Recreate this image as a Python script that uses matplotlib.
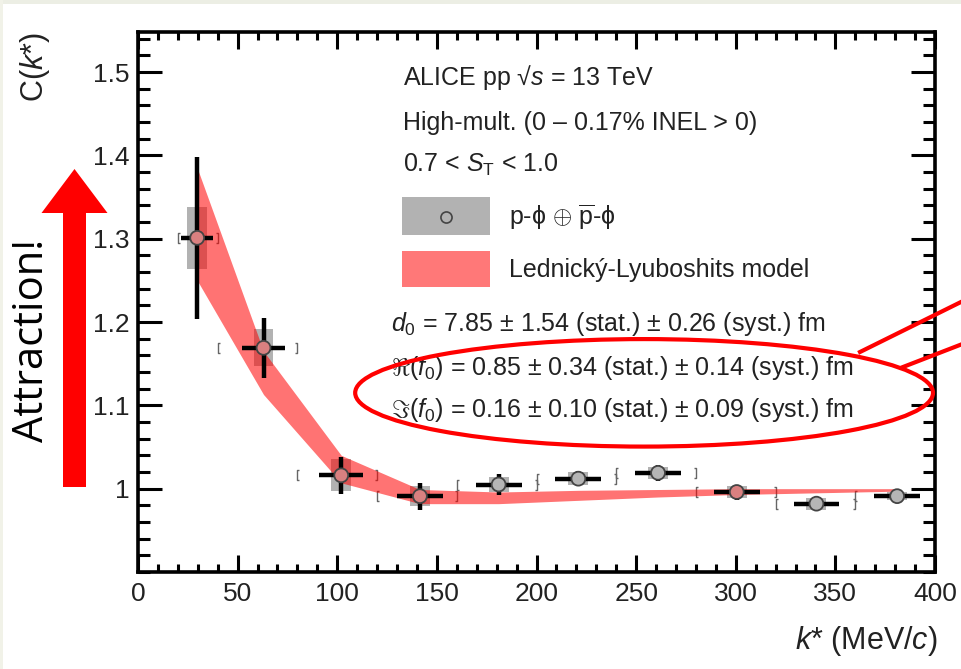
import numpy as np
import matplotlib
matplotlib.use("Agg")
import matplotlib.pyplot as plt
from matplotlib.patches import Ellipse, FancyArrow, Rectangle
from matplotlib.path import Path
from matplotlib.lines import Line2D
from matplotlib.ticker import MultipleLocator, FuncFormatter

plt.rcParams['font.family'] = ['Liberation Sans', 'DejaVu Sans']
plt.rcParams['mathtext.fontset'] = 'custom'
plt.rcParams['mathtext.rm'] = 'Liberation Sans'
plt.rcParams['mathtext.it'] = 'Liberation Sans:italic'
plt.rcParams['mathtext.bf'] = 'Liberation Sans:bold'

# p-phi correlation
k_star = [29.7, 63.0, 102.0, 141.5, 181.0, 221.0, 261.0, 300.5, 340.5, 381.0]
c_val = [1.301, 1.169, 1.016, 0.991, 1.005, 1.012, 1.019, 0.996, 0.982, 0.991]
stat_err = [0.097, 0.036, 0.022, 0.016, 0.013, 0.009, 0.010, 0.009, 0.005, 0.005]
k_err = [8.0, 11.0, 11.0, 11.5, 11.5, 11.5, 11.5, 11.5, 11.5, 11.5]
syst_err = [0.037, 0.022, 0.019, 0.012, 0.009, 0.008, 0.007, 0.007, 0.007, 0.005]
bin_lo = [20, 40, 80, 120, 160, 200, 240, 280, 320, 360]
bin_hi = [40, 80, 120, 160, 200, 240, 280, 320, 360, 400]

# Lednicky-Lyuboshits band
band_k = [29.7, 63.0, 102.0, 141.5, 181.0, 221.0, 261.0, 300.5, 340.5, 381.0]
band_lo = [1.250, 1.113, 1.007, 0.982, 0.982, 0.986, 0.990, 0.993, 0.995, 0.997]
band_hi = [1.385, 1.165, 1.040, 0.999, 0.996, 0.998, 0.999, 1.000, 1.000, 1.000]

W, H = 961, 669
TXT = '#222222'
fig = plt.figure(figsize=(W / 100, H / 100), dpi=100)
fig.patch.set_facecolor('white')
# faint slide frame
fig.patches.append(Rectangle((0, 1 - 4 / H), 1, 4 / H, transform=fig.transFigure,
                             color='#eceee4', lw=0))
fig.patches.append(Rectangle((0, 0), 3 / W, 1, transform=fig.transFigure,
                             color='#f1f2e8', lw=0))

ax = fig.add_axes([138 / W, 1 - 572 / H, 797 / W, 540 / H])
ax.set_xlim(0, 400)
ax.set_ylim(0.9, 1.548)

# syst boxes
ax.bar(k_star, 2 * np.array(syst_err), bottom=np.array(c_val) - np.array(syst_err),
       width=10, color='#b2b2b2', lw=0, zorder=1)

# bin-edge brackets
lbr = Path([(0.5, 1), (0, 1), (0, -1), (0.5, -1)],
           [Path.MOVETO, Path.LINETO, Path.LINETO, Path.LINETO])
rbr = Path([(-0.5, 1), (0, 1), (0, -1), (-0.5, -1)],
           [Path.MOVETO, Path.LINETO, Path.LINETO, Path.LINETO])
ax.plot(bin_lo, c_val, ls='none', marker=lbr, ms=6.5, mfc='none', mec='#666666',
        mew=1.0, zorder=2)
ax.plot(bin_hi, c_val, ls='none', marker=rbr, ms=6.5, mfc='none', mec='#666666',
        mew=1.0, zorder=2)

ax.fill_between(band_k, band_lo, band_hi, color='red', alpha=0.55, lw=0, zorder=3)

ax.errorbar(k_star, c_val, yerr=stat_err, xerr=k_err, fmt='none', ecolor='black',
            elinewidth=3.2, capsize=0, zorder=5)

# markers: tinted where they sit inside the model band
inside = ((np.array(c_val) >= np.interp(k_star, band_k, band_lo) - 0.004) &
          (np.array(c_val) <= np.interp(k_star, band_k, band_hi) + 0.004))
face = np.where(inside[:, None], [[0.85, 0.5, 0.5]], [[0.71, 0.71, 0.71]])
ax.scatter(k_star, c_val, s=10.0 ** 2, c=face, edgecolors='#444444', linewidths=1.3,
           zorder=6)

# axes styling
for s in ax.spines.values():
    s.set_linewidth(2.6)
ax.xaxis.set_major_locator(MultipleLocator(50))
ax.xaxis.set_minor_locator(MultipleLocator(10))
ax.set_yticks([1.0, 1.1, 1.2, 1.3, 1.4, 1.5])
ax.yaxis.set_minor_locator(MultipleLocator(0.02))
ax.yaxis.set_major_formatter(FuncFormatter(lambda v, p: f"{v:g}"))
ax.tick_params(which='both', direction='in', top=True, right=True,
               labeltop=False, labelright=False, colors='black', width=2.2)
ax.tick_params(axis='x', which='major', length=12, labelsize=19, pad=7,
               labelcolor=TXT)
ax.tick_params(axis='x', which='minor', length=6)
ax.tick_params(axis='y', which='major', length=17, labelsize=19, pad=6,
               labelcolor=TXT)
ax.tick_params(axis='y', which='minor', length=8.5)

fig.text(35 / W, 1 - 67 / H, r"C($k$*)", rotation=90, fontsize=22,
         ha='center', va='center', color=TXT)
fig.text(938 / W, 1 - 641 / H, r"$k$* (MeV/$c$)", fontsize=22,
         ha='right', va='center', color=TXT)

# annotation text
fs = 18
ax.text(133, 1.493, r"ALICE pp √$s$ = 13 TeV", fontsize=fs, va='center', color=TXT)
ax.text(133, 1.439, "High-mult. (0 – 0.17% INEL > 0)", fontsize=fs, va='center',
        color=TXT)
ax.text(133, 1.389, r"0.7 < $S_{\mathrm{T}}$ < 1.0", fontsize=fs, va='center',
        color=TXT)

ax.add_patch(Rectangle((132.5, 1.305), 44, 0.045, color='#b2b2b2', lw=0, zorder=2))
ax.plot([154.5], [1.3265], ls='none', marker='o', ms=8, mfc='#b2b2b2', mec='#444444',
        mew=1.2, zorder=3)
ax.text(186, 1.3265, r"p-ϕ $\oplus$ $\overline{\mathrm{p}}$-ϕ", fontsize=fs,
        va='center', color=TXT)
ax.add_patch(Rectangle((132.5, 1.2425), 44, 0.043, color='#ff7878', lw=0, zorder=2))
ax.text(186, 1.263, "Lednický-Lyuboshits model", fontsize=fs, va='center',
        color=TXT)

ax.text(127, 1.197, r"$d_{0}$ = 7.85 ± 1.54 (stat.) ± 0.26 (syst.) fm", fontsize=fs,
        va='center', color=TXT)
ax.text(127, 1.145, r"$\Re(f_{0})$ = 0.85 ± 0.34 (stat.) ± 0.14 (syst.) fm", fontsize=fs,
        va='center', color=TXT)
ax.text(127, 1.095, r"$\Im(f_{0})$ = 0.16 ± 0.10 (stat.) ± 0.09 (syst.) fm", fontsize=fs,
        va='center', color=TXT)

# slide overlays
ax.add_patch(Ellipse((254, 1.115), 290, 0.129, fill=False, ec='red', lw=3,
                     clip_on=False, zorder=7))
for (x0, y0), (x1, y1) in [((860, 352), (965, 300)), ((903, 367), (965, 343))]:
    fig.lines.append(Line2D([x0 / W, x1 / W], [1 - y0 / H, 1 - y1 / H],
                            transform=fig.transFigure, color='red', lw=3))

fig.patches.append(FancyArrow(74.5 / W, 1 - 487 / H, 0, (487 - 169) / H,
                              width=23 / W, head_width=66 / W, head_length=44 / H,
                              length_includes_head=True, transform=fig.transFigure,
                              color='red', lw=0))
fig.text(32 / W, 1 - 340 / H, "Attraction!", rotation=90, fontsize=30,
         family='Open Sans', ha='center', va='center', color='black')

fig.savefig("out.png", dpi=100)
